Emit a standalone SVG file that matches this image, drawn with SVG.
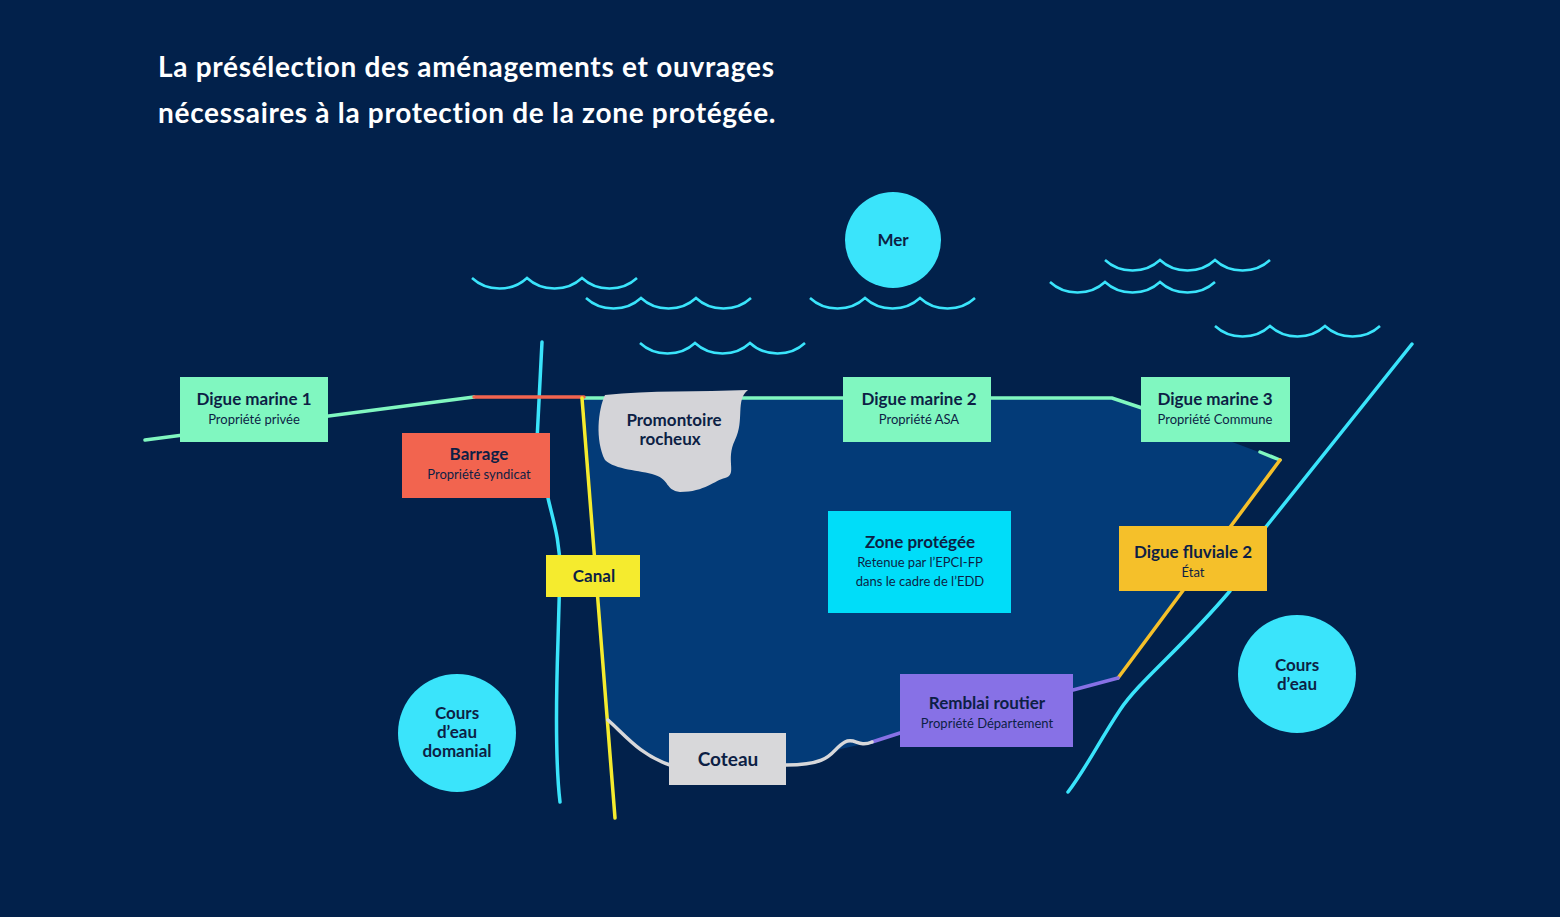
<svg xmlns="http://www.w3.org/2000/svg" width="1560" height="917" viewBox="0 0 1560 917">
<style>
text{font-family:"Lato","Noto Sans",sans-serif;fill:#0d1f45;text-anchor:middle}
.t{font-weight:700;font-size:17px}
.s{font-size:13px}
.h{fill:#fff;font-weight:700;font-size:28px;letter-spacing:0.7px;text-anchor:start}
.w{fill:none;stroke:#3ae4fb;stroke-width:2.5}
.ln{fill:none;stroke-width:3.5;stroke-linecap:round}
.c{fill:#3ae4fb}
</style>
<defs><path id="wv" d="M0 0c15 14 40 14 55 0c15 14 40 14 55 0c15 14 40 14 55 0"/></defs>
<rect width="1560" height="917" fill="#02214b"/>
<text class="h" x="158" y="77">La présélection des aménagements et ouvrages</text>
<text class="h" x="158" y="123">nécessaires à la protection de la zone protégée.</text>
<path d="M584 398L1112 398L1142 408L1280 460L1118 678L872 742L845 748C830 750 835 765 786 765L670 765C640 755 625 735 608 720Z" fill="#033b78"/>
<g class="w">
<use href="#wv" x="472" y="278"/><use href="#wv" x="586" y="298"/><use href="#wv" x="640" y="343"/>
<use href="#wv" x="810" y="298"/><use href="#wv" x="1050" y="282"/><use href="#wv" x="1105" y="260"/><use href="#wv" x="1215" y="326"/>
</g>
<g id="connectors">
<path class="ln" d="M542 342L537 440M548 498C553 520 560 540 560 570L558 640C556 700 555 760 560 802" stroke="#3ae4fb"/>
<path class="ln" d="M1412 344L1265 528M1230 591C1180 650 1140 680 1120 710C1100 740 1085 770 1068 792" stroke="#3ae4fb"/>
<path class="ln" d="M145 440L474 397M584 398L1112 398L1142 408M1260 452L1280 460" stroke="#80f7c0"/>
<path class="ln" d="M474 397L584 397" stroke="#f2644f"/>
<path class="ln" d="M582 398L615 818" stroke="#f5eb2e"/>
<path class="ln" d="M1280 460L1118 678" stroke="#f5c02a"/>
<path class="ln" d="M1118 678L1073 690M900 733L872 742" stroke="#8771e6"/>
<path class="ln" d="M608 720C625 735 640 755 670 765M786 765C835 765 830 750 845 742C855 737 858 748 872 742" stroke="#d8d8da"/>
</g>
<g id="promontoire"><path d="M605 395C650 390 700 392 748 390C735 400 745 420 735 440C725 460 738 475 725 478C715 480 705 492 680 492C665 490 670 480 655 475C640 470 615 470 605 460C595 440 598 410 605 395Z" fill="#d4d4d8"/>
<text class="t" x="674" y="426">Promontoire</text><text class="t" x="670" y="445">rocheux</text></g>
<g id="mer"><circle class="c" cx="893" cy="240" r="48"/><text class="t" x="893" y="246">Mer</text></g>
<g id="cours1"><circle class="c" cx="1297" cy="674" r="59"/><text class="t" x="1297" y="671">Cours</text><text class="t" x="1297" y="690">d’eau</text></g>
<g id="cours2"><circle class="c" cx="457" cy="733" r="59"/><text class="t" x="457" y="719">Cours</text><text class="t" x="457" y="738">d’eau</text><text class="t" x="457" y="757">domanial</text></g>
<g id="dm1"><rect x="180" y="377" width="148" height="65" fill="#80f7c0"/><text class="t" x="254" y="405">Digue marine 1</text><text class="s" x="254" y="424">Propriété privée</text></g>
<g id="barrage"><rect x="402" y="433" width="148" height="65" fill="#f2644f"/><text class="t" x="479" y="460">Barrage</text><text class="s" x="479" y="479">Propriété syndicat</text></g>
<g id="canal"><rect x="546" y="555" width="94" height="42" fill="#f5eb2e"/><text class="t" x="594" y="582">Canal</text></g>
<g id="dm2"><rect x="843" y="377" width="148" height="65" fill="#80f7c0"/><text class="t" x="919" y="405">Digue marine 2</text><text class="s" x="919" y="424">Propriété ASA</text></g>
<g id="dm3"><rect x="1141" y="377" width="149" height="65" fill="#80f7c0"/><text class="t" x="1215" y="405">Digue marine 3</text><text class="s" x="1215" y="424">Propriété Commune</text></g>
<g id="zone"><rect x="828" y="511" width="183" height="102" fill="#00ddf9"/><text class="t" x="920" y="548">Zone protégée</text><text class="s" x="920" y="567">Retenue par l’EPCI-FP</text><text class="s" x="920" y="586">dans le cadre de l’EDD</text></g>
<g id="df2"><rect x="1119" y="526" width="148" height="65" fill="#f5c02a"/><text class="t" x="1193" y="558">Digue fluviale 2</text><text class="s" x="1193" y="577">État</text></g>
<g id="remblai"><rect x="900" y="674" width="173" height="73" fill="#8771e6"/><text class="t" x="987" y="709">Remblai routier</text><text class="s" x="987" y="728">Propriété Département</text></g>
<g id="coteau"><rect x="669" y="733" width="117" height="52" fill="#d8d8da"/><text class="t" x="728" y="766" style="font-size:19px">Coteau</text></g>
</svg>
